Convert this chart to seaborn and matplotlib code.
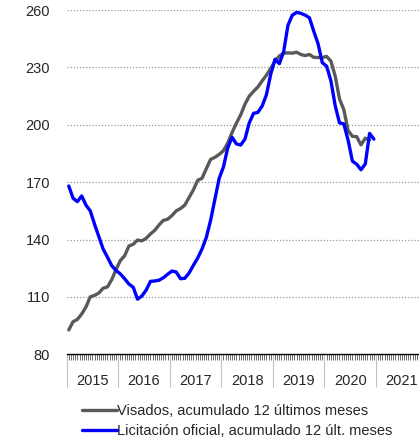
import numpy as np
import pandas as pd
import matplotlib
matplotlib.use("Agg")
import matplotlib.pyplot as plt
import seaborn as sns

# monthly series starting Jan 2015
visados = [92.7, 97, 98.2, 101, 104.7, 110, 110.8, 112, 114.5, 115.2, 119, 124.3,
           129, 131.5, 136.6, 137.5, 139.7, 139.3, 140.6, 142.9, 144.8, 147.6, 150, 150.6,
           152.5, 155, 156.2, 158, 162, 166, 171, 172, 177, 181.9, 183, 184.5,
           186.5, 190.5, 196, 200.8, 205.2, 210.8, 215, 217.5, 219.8, 223, 226, 229.5,
           233.3, 236, 237.5, 237.6, 237.5, 238, 236.8, 236.2, 236.8, 235.3, 235.2, 235.2,
           235.8, 233.3, 225.5, 213.5, 208, 197, 194, 193.8, 189.5, 193, 192]
licitacion = [168, 161.6, 159.8, 162.8, 158, 155, 148, 141.5, 135, 130.8, 126.3, 123.8,
              122, 119.5, 116.7, 115, 108.8, 110.4, 113.5, 118.1, 118.3, 118.7, 120, 121.8,
              123.5, 123, 119.5, 119.7, 122.5, 126.5, 130.3, 135, 141, 150, 161, 172,
              178, 188, 193.5, 190, 189.4, 192.5, 201, 206, 206.5, 209.8, 215.8, 226.5,
              234.3, 232, 238.2, 252, 257.3, 258.8, 258.3, 257.4, 256, 249, 242.5, 232.5,
              230.7, 223, 210, 201, 200.5, 192, 181, 179.4, 176.5, 179.5, 195.5, 192.5]
years = [2015, 2016, 2017, 2018, 2019, 2020, 2021]
labels = ["Visados, acumulado 12 últimos meses",
          "Licitación oficial, acumulado 12 últ. meses"]

df = pd.concat([
    pd.DataFrame({"t": 2015 + (np.arange(len(visados)) + 0.5) / 12,
                  "valor": visados, "serie": labels[0]}),
    pd.DataFrame({"t": 2015 + (np.arange(len(licitacion)) + 0.5) / 12,
                  "valor": licitacion, "serie": labels[1]}),
])

sns.set_style("white")
plt.rcParams["font.family"] = ["Liberation Sans", "DejaVu Sans"]

fig = plt.figure(figsize=(4.19, 4.40), dpi=100)
ax = fig.add_axes([0.159, 0.195, 0.841, 0.782])

sns.lineplot(data=df, x="t", y="valor", hue="serie",
             palette={labels[0]: "#595959", labels[1]: "#0000ff"},
             linewidth=2.4, ax=ax, legend=False)

ax.set_xlim(2015, 2021.83)
ax.set_ylim(80, 260)
ax.set_yticks(range(80, 261, 30))
ax.tick_params(axis="y", length=0, pad=12, labelsize=10.5)
for v in range(110, 261, 30):
    ax.axhline(v, color="#999999", linestyle=(0, (1, 1.5)), linewidth=0.9, zorder=0)

for s in ["top", "right", "left"]:
    ax.spines[s].set_visible(False)
ax.spines["bottom"].set_color("black")
ax.spines["bottom"].set_linewidth(1)

ax.set_xticks(years)
ax.set_xticklabels([])
ax.set_xticks(np.arange(2015, 2021.84, 1 / 24), minor=True)
ax.tick_params(axis="x", which="both", bottom=True, direction="out")
ax.tick_params(axis="x", which="major", length=24, width=0.8, color="#c0c0c0")
ax.tick_params(axis="x", which="minor", length=4, width=0.6, color="#555555")
for y in years:
    ax.text(y + 0.5, -0.077, str(y), transform=ax.get_xaxis_transform(),
            ha="center", va="center", fontsize=10.5)

ax.set_xlabel("")
ax.set_ylabel("")

handles = [plt.Line2D([], [], color="#595959", linewidth=2.4),
           plt.Line2D([], [], color="#0000ff", linewidth=2.4)]
fig.legend(handles, labels, loc="upper left", bbox_to_anchor=(0.195, 0.082),
           frameon=False, fontsize=10.5, handlelength=2.4, handletextpad=0.0,
           labelspacing=0.45, borderaxespad=0, borderpad=0)

fig.savefig("out.png", dpi=100)
